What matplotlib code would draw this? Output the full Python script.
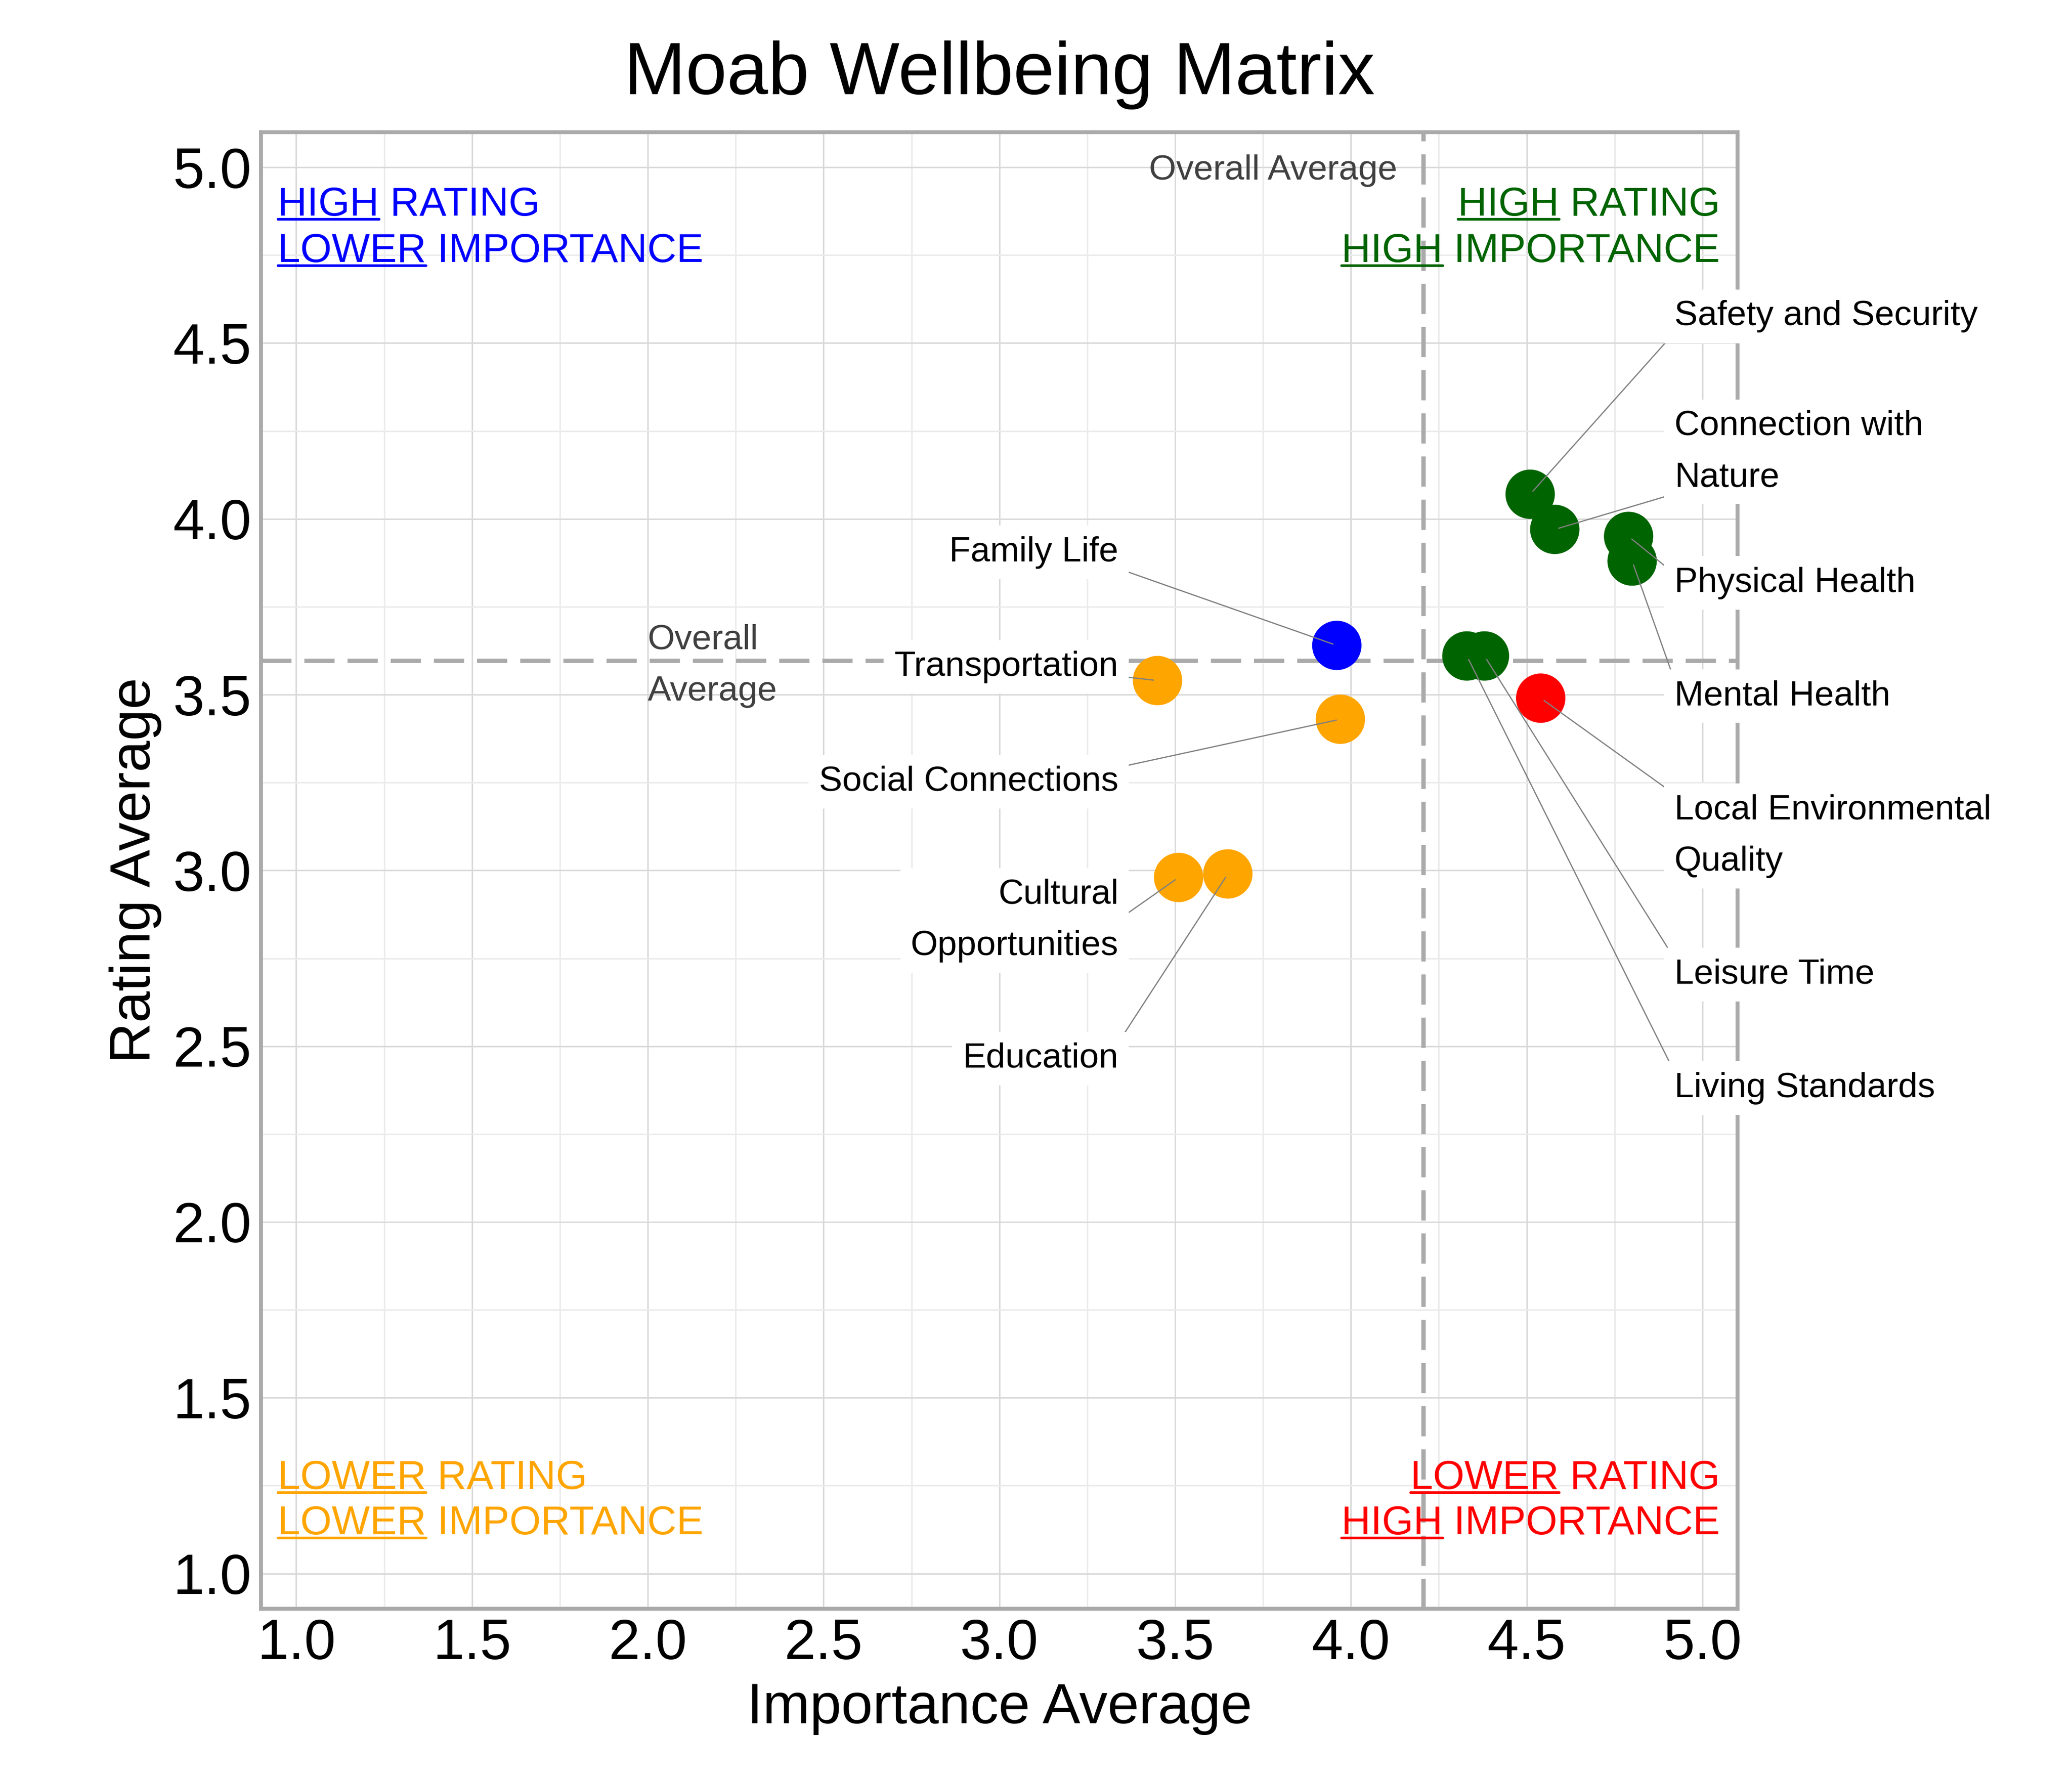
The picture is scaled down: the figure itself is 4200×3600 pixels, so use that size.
import numpy as np
import matplotlib.pyplot as plt
from matplotlib.ticker import MultipleLocator, FormatStrFormatter

plt.rcParams["font.family"] = ["Liberation Sans", "DejaVu Sans"]

# 1) Datos
factors = ["Safety and Security", "Connection with Nature", "Physical Health",
           "Mental Health", "Local Environmental Quality", "Leisure Time",
           "Living Standards", "Family Life", "Transportation",
           "Social Connections", "Cultural Opportunities", "Education"]
label_texts = ["Safety and Security", "Connection with\nNature", "Physical Health",
               "Mental Health", "Local Environmental\nQuality", "Leisure Time",
               "Living Standards", "Family Life", "Transportation",
               "Social Connections", "Cultural\nOpportunities", "Education"]
importance = [4.51, 4.58, 4.79, 4.80, 4.54, 4.38, 4.33, 3.96, 3.45, 3.97, 3.51, 3.65]
rating = [4.07, 3.97, 3.95, 3.88, 3.49, 3.61, 3.61, 3.64, 3.54, 3.43, 2.98, 2.99]

ticks = [1.0, 1.5, 2.0, 2.5, 3.0, 3.5, 4.0, 4.5, 5.0]

# posicion de las etiquetas (lado y borde superior del texto)
label_side = ["right"] * 7 + ["left"] * 5
label_top = [4.622, 4.310, 3.864, 3.542, 3.217, 2.750, 2.427,
             3.951, 3.625, 3.299, 2.977, 2.511]

# 2) Promedios y colores por cuadrante
avg_x = np.mean(importance)
avg_y = np.mean(rating)

colors = []
for imp, rat in zip(importance, rating):
    if imp >= avg_x and rat >= avg_y:
        colors.append("#006400")
    elif imp < avg_x and rat >= avg_y:
        colors.append("#0000FF")
    elif imp < avg_x:
        colors.append("#FFA500")
    else:
        colors.append("#FF0000")

# 3) Figura
fig = plt.figure(figsize=(14, 12), dpi=300)
ax = fig.add_axes([0.126, 0.0942, 0.7126, 0.8314])
ax.set_xlim(0.9, 5.1)
ax.set_ylim(0.9, 5.1)

for axis in (ax.xaxis, ax.yaxis):
    axis.set_major_locator(MultipleLocator(0.5))
    axis.set_minor_locator(MultipleLocator(0.25))
    axis.set_major_formatter(FormatStrFormatter("%.1f"))
ax.set_xticks(ticks)
ax.set_yticks(ticks)

ax.set_axisbelow(True)
ax.grid(which="major", color="#D9D9D9", lw=0.7)
ax.grid(which="minor", color="#EBEBEB", lw=0.7)
ax.tick_params(which="both", length=0, pad=4.6, labelsize=27.5, colors="black")
for sp in ax.spines.values():
    sp.set_color("#AAAAAA")
    sp.set_linewidth(1.9)

ax.axvline(avg_x, color="#AAAAAA", lw=2.1, ls=(0, (7, 3)), zorder=1.5)
ax.axhline(avg_y, color="#AAAAAA", lw=2.1, ls=(0, (7, 3)), zorder=1.5)

ax.scatter(importance, rating, s=576, c=colors, linewidths=0, zorder=3)

# 4) Etiquetas con lineas
for i, txt in enumerate(label_texts):
    px, py = importance[i], rating[i]
    if label_side[i] == "right":
        tx, ha, rx = 4.92, "left", 0.0
    else:
        tx, ha, rx = 3.339, "right", 1.0
    ry = float(np.clip(0.5 + (py - label_top[i]) / 0.3, 0, 1))
    ax.annotate(txt, xy=(px, py), xytext=(tx, label_top[i]), textcoords="data",
                ha=ha, va="top", multialignment=ha, fontsize=17, color="black",
                linespacing=1.75,
                bbox=dict(boxstyle="square,pad=0.3", fc="white", ec="none"),
                arrowprops=dict(arrowstyle="-", color="#808080", lw=0.6,
                                shrinkA=0, shrinkB=2, relpos=(rx, ry)),
                zorder=5, annotation_clip=False)

ax.text(avg_x - 0.074, 5.036, "Overall Average", ha="right", va="top",
        fontsize=17, color="#404040")
ax.text(2.0, 3.701, "Overall\nAverage", ha="left", va="top", fontsize=17,
        color="#404040", linespacing=1.75)

# 5) Textos de cuadrantes (primera palabra subrayada)
quad = [
    (0.947, 4.862, "HIGH", "RATING", "#0000FF", "left"),
    (0.947, 4.731, "LOWER", "IMPORTANCE", "#0000FF", "left"),
    (5.05, 4.862, "HIGH", "RATING", "#006400", "right"),
    (5.05, 4.731, "HIGH", "IMPORTANCE", "#006400", "right"),
    (0.947, 1.241, "LOWER", "RATING", "#FFA500", "left"),
    (0.947, 1.112, "LOWER", "IMPORTANCE", "#FFA500", "left"),
    (5.05, 1.241, "LOWER", "RATING", "#FF0000", "right"),
    (5.05, 1.112, "HIGH", "IMPORTANCE", "#FF0000", "right"),
]
quad_texts = []
for qx, qy, first, rest, col, ha in quad:
    t = ax.text(qx, qy, first + " " + rest, ha=ha, va="baseline",
                fontsize=19.7, color=col)
    quad_texts.append((t, first, qx, qy, col))

ax.set_title("Moab Wellbeing Matrix", fontsize=36, pad=18.5)
ax.set_xlabel("Importance Average", fontsize=27.5, labelpad=5.5)
ax.set_ylabel("Rating Average", fontsize=27.5, labelpad=5.5)

fig.canvas.draw()
renderer = fig.canvas.get_renderer()
inv = ax.transData.inverted()
for t, first, qx, qy, col in quad_texts:
    bb = t.get_window_extent(renderer)
    tmp = ax.text(0, 0, first, fontsize=19.7)
    w = tmp.get_window_extent(renderer).width
    tmp.remove()
    base = ax.transData.transform((qx, qy))[1]
    (x0, yl), (x1, _) = inv.transform([(bb.x0, base - 7), (bb.x0 + w, base - 7)])
    ax.plot([x0, x1], [yl, yl], color=col, lw=1.3, solid_capstyle="round",
            clip_on=False, zorder=4)

fig.savefig("out.png", dpi=300)
